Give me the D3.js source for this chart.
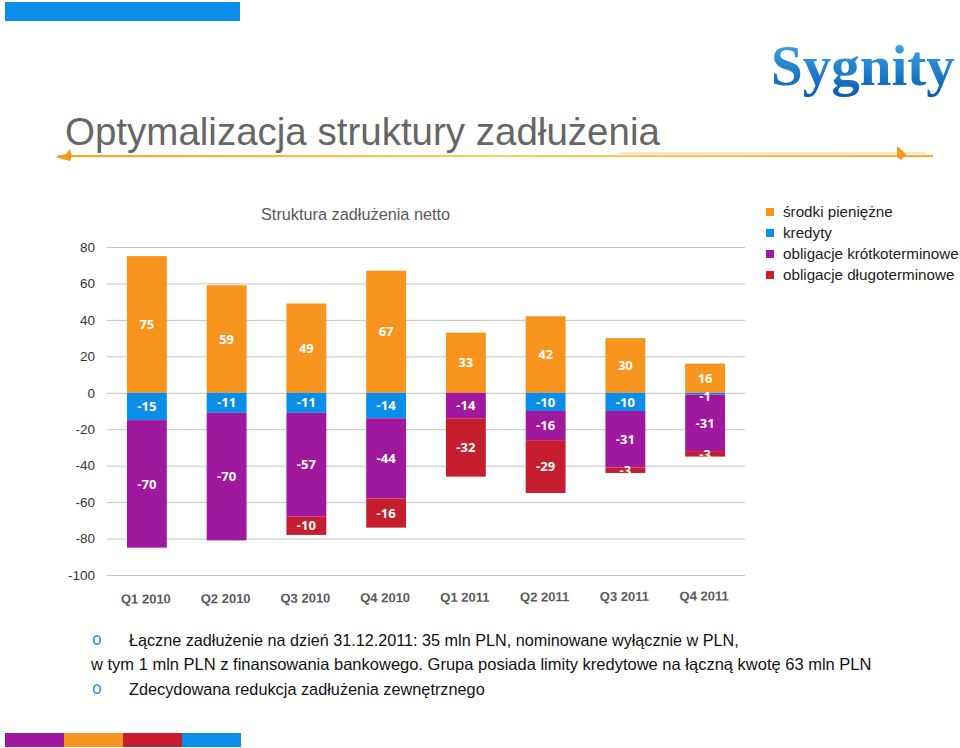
<!DOCTYPE html>
<html>
<head>
<meta charset="utf-8">
<script src="https://cdn.jsdelivr.net/npm/d3@7"></script>
<style>
  html, body { margin: 0; padding: 0; background: #fff; }
  svg { display: block; font-family: "Liberation Sans", Arial, sans-serif; }
</style>
</head>
<body>
<div id="slide"></div>
<script>
const quarters = ["Q1 2010", "Q2 2010", "Q3 2010", "Q4 2010", "Q1 2011", "Q2 2011", "Q3 2011", "Q4 2011"];
const srodki = [75, 59, 49, 67, 33, 42, 30, 16];
const kredyty = [-15, -11, -11, -14, 0, -10, -10, -1];
const krotko = [-70, -70, -57, -44, -14, -16, -31, -31];
const dlugo = [0, 0, -10, -16, -32, -29, -3, -3];
const yTicks = [80, 60, 40, 20, 0, -20, -40, -60, -80, -100];

const seriesNames = ["środki pieniężne", "kredyty", "obligacje krótkoterminowe", "obligacje długoterminowe"];
const seriesValues = [srodki, kredyty, krotko, dlugo];
const colors = ["#F7941D", "#0A8EEA", "#A0189E", "#C61E2E"];

const W = 960, H = 748;
const svg = d3.select("#slide").append("svg").attr("width", W).attr("height", H);

// slide decoration: coloured strips
svg.append("rect").attr("x", 5).attr("y", 2).attr("width", 235).attr("height", 19).attr("fill", "#0A8EEA");
const strip = [colors[2], colors[0], colors[3], colors[1]];
strip.forEach((c, i) => {
  svg.append("rect").attr("x", 5 + i * 59).attr("y", 733).attr("width", 59).attr("height", 14).attr("fill", c);
});

// logo
const defs = svg.append("defs");
const lg = defs.append("linearGradient").attr("id", "logoGrad").attr("x1", 0).attr("y1", 0).attr("x2", 0).attr("y2", 1);
lg.append("stop").attr("offset", "0%").attr("stop-color", "#45AEF0");
lg.append("stop").attr("offset", "100%").attr("stop-color", "#0B5CB0");
svg.append("text")
  .attr("x", 771).attr("y", 85)
  .attr("font-family", "'Liberation Serif', 'Times New Roman', serif")
  .attr("font-weight", "bold")
  .attr("font-size", 57)
  .attr("fill", "url(#logoGrad)")
  .text("Sygnity");

// title
svg.append("text")
  .attr("x", 65).attr("y", 145)
  .attr("font-size", 38.5)
  .attr("fill", "#666")
  .text("Optymalizacja struktury zadłużenia");

const gg = defs.append("linearGradient").attr("id", "goldGrad");
gg.append("stop").attr("offset", "0%").attr("stop-color", "#F2A81E");
gg.append("stop").attr("offset", "50%").attr("stop-color", "#F6D070");
gg.append("stop").attr("offset", "100%").attr("stop-color", "#F2B030");
svg.append("rect").attr("x", 58).attr("y", 155).attr("width", 875).attr("height", 2.2).attr("fill", "url(#goldGrad)");
svg.append("rect").attr("x", 620).attr("y", 152.5).attr("width", 305).attr("height", 1.2).attr("fill", "#F5C460").attr("opacity", 0.8);
svg.append("path").attr("d", "M55,157 L66,154 L70,149 L72,156 L70,161 Z").attr("fill", "#F39A1C");
svg.append("path").attr("d", "M897,146 L903,151 L906,155 L901,160 L897,157 Z").attr("fill", "#F39A1C");

// chart
const x = d3.scaleBand().domain(quarters).range([107, 745]).paddingInner(0.5).paddingOuter(0.25);
const y = d3.scaleLinear().domain([-100, 80]).range([575, 247]);

svg.append("g")
  .attr("transform", "translate(107,0)")
  .call(d3.axisLeft(y).tickValues(yTicks).tickSize(-638).tickPadding(12).tickFormat(d => String(d)))
  .call(g => g.select(".domain").remove())
  .call(g => g.selectAll("line").attr("stroke", "#c3c3c3"))
  .call(g => g.selectAll("text").attr("font-size", 13.5).attr("fill", "#333").attr("font-family", "'Liberation Sans', Arial, sans-serif"));

const rows = quarters.map((q, i) => {
  const r = { q };
  seriesNames.forEach((n, k) => (r[n] = seriesValues[k][i]));
  return r;
});
const stacked = d3.stack().keys(seriesNames).offset(d3.stackOffsetDiverging)(rows);

const layers = svg.append("g").selectAll("g.layer")
  .data(stacked)
  .join("g")
  .attr("class", "layer")
  .attr("fill", (d, i) => colors[i]);

layers.selectAll("rect")
  .data(d => d)
  .join("rect")
  .attr("x", d => x(d.data.q))
  .attr("width", x.bandwidth())
  .attr("y", d => y(Math.max(d[0], d[1])))
  .attr("height", d => Math.abs(y(d[0]) - y(d[1])));

const labels = svg.append("g")
  .attr("font-family", "'Open Sans', 'DejaVu Sans', sans-serif")
  .attr("font-weight", "bold")
  .attr("font-size", 13)
  .attr("fill", "#fff")
  .attr("text-anchor", "middle");

stacked.forEach((layer, k) => {
  labels.selectAll(null)
    .data(layer.filter(d => d[1] - d[0] !== 0))
    .join("text")
    .attr("x", d => x(d.data.q) + x.bandwidth() / 2)
    .attr("y", d => {
      const cy = y((d[0] + d[1]) / 2);
      // very thin segment next to the zero line: push label a bit away from it
      return Math.abs(y(d[0]) - y(d[1])) < 4 && Math.max(d[0], d[1]) === 0 ? cy + 3 : cy;
    })
    .attr("dy", "0.36em")
    .text(d => d.data[seriesNames[k]]);
});

// x labels (slightly tilted like the source)
svg.append("g")
  .attr("transform", "rotate(-0.3, 426, 597)")
  .selectAll("text")
  .data(quarters)
  .join("text")
  .attr("x", d => x(d) + x.bandwidth() / 2 - 1)
  .attr("y", 602)
  .attr("text-anchor", "middle")
  .attr("font-size", 13)
  .attr("font-weight", "bold")
  .attr("fill", "#5a5a5a")
  .text(d => d);

// chart title
svg.append("text")
  .attr("x", 261).attr("y", 220)
  .attr("font-size", 16.3)
  .attr("fill", "#595959")
  .text("Struktura zadłużenia netto");

// legend
const legend = svg.append("g").selectAll("g")
  .data(seriesNames)
  .join("g")
  .attr("transform", (d, i) => `translate(766,${212 + i * 21})`);
legend.append("rect").attr("x", 0).attr("y", -4).attr("width", 8).attr("height", 8).attr("fill", (d, i) => colors[i]);
legend.append("text").attr("x", 17).attr("y", 5).attr("font-size", 15.2).attr("fill", "#222").text(d => d);

// bullet text
const notes = [
  { text: "Łączne zadłużenie na dzień 31.12.2011: 35 mln PLN, nominowane wyłącznie w PLN,", bullet: true, y: 646, size: 16.2 },
  { text: "w tym 1 mln PLN z finansowania bankowego. Grupa posiada limity kredytowe na łączną kwotę 63 mln PLN", bullet: false, y: 670, size: 16.5 },
  { text: "Zdecydowana redukcja zadłużenia zewnętrznego", bullet: true, y: 695, size: 16.3 }
];
const notesG = svg.append("g");
notes.forEach(n => {
  if (n.bullet) {
    notesG.append("ellipse").attr("cx", 97).attr("cy", n.y - 6).attr("rx", 3.4).attr("ry", 4.3)
      .attr("fill", "none").attr("stroke", "#1E8FE0").attr("stroke-width", 1.6);
  }
  notesG.append("text")
    .attr("x", n.bullet ? 129 : 91).attr("y", n.y)
    .attr("font-size", n.size)
    .attr("fill", "#111")
    .text(n.text);
});
</script>
</body>
</html>
